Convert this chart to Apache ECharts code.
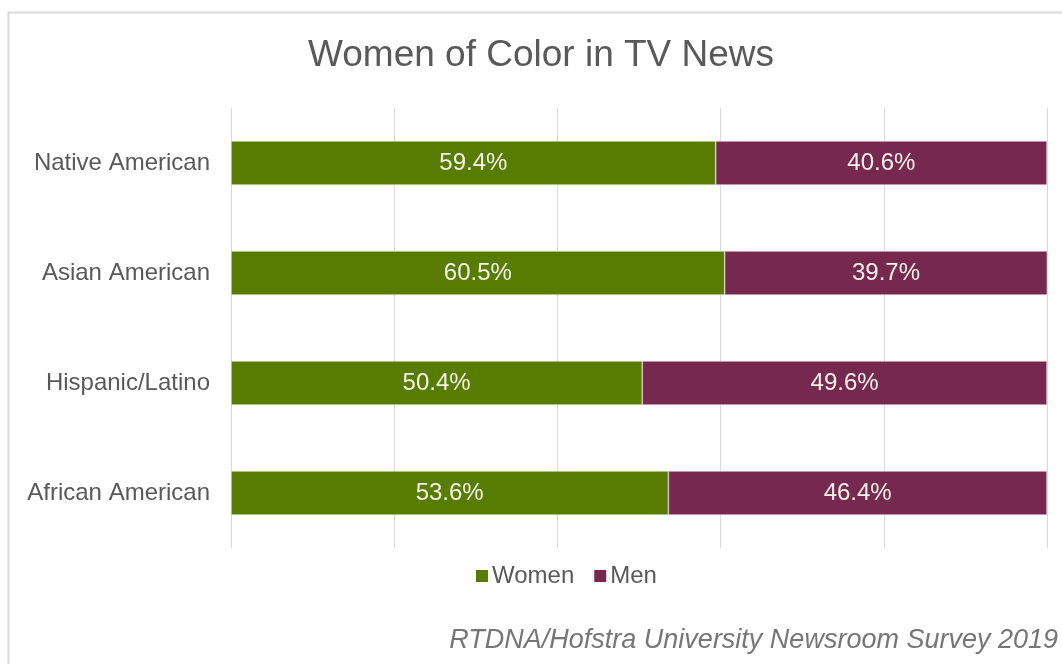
<!DOCTYPE html>
<html>
<head>
<meta charset="utf-8">
<script src="https://cdn.jsdelivr.net/npm/echarts@6/dist/echarts.min.js"></script>
<style>
  html, body { margin: 0; padding: 0; background: #ffffff; }
  #chart { width: 1062px; height: 664px; }
</style>
</head>
<body>
<div id="chart"></div>
<script>
// Share of women and men among newsroom staff of color, by group (percent)
const categories = ['African American', 'Hispanic/Latino', 'Asian American', 'Native American'];
const women = [53.6, 50.4, 60.5, 59.4];
const men = [46.4, 49.6, 39.7, 40.6];
const xTicks = [0, 20, 40, 60, 80, 100];

const FONT = '"Liberation Sans", Arial, sans-serif';
const chart = echarts.init(document.getElementById('chart'));

const labelStyle = {
  show: true,
  position: 'inside',
  color: '#f2f2ea',
  fontSize: 24,
  fontFamily: FONT,
  formatter: p => p.value.toFixed(1) + '%'
};

chart.setOption({
  backgroundColor: '#ffffff',
  animation: false,
  title: {
    text: 'Women of Color in TV News',
    left: 303,
    top: 32,
    textStyle: { color: '#595959', fontSize: 37, fontWeight: 'normal', fontFamily: FONT }
  },
  graphic: [
    {
      type: 'rect',
      shape: { x: 8.5, y: 12.5, width: 1070, height: 670 },
      style: { fill: 'none', stroke: '#d9d9d9', lineWidth: 2 },
      silent: true
    },
    {
      type: 'text',
      right: 4,
      top: 627,
      style: {
        text: 'RTDNA/Hofstra University Newsroom Survey 2019',
        fill: '#767676',
        font: 'italic 27px ' + FONT
      }
    }
  ],
  legend: {
    data: ['Women', 'Men'],
    left: 471,
    top: 559,
    itemWidth: 12,
    itemHeight: 12,
    itemGap: 20,
    icon: 'rect',
    itemStyle: { borderWidth: 0 },
    textStyle: { color: '#595959', fontSize: 24, fontFamily: FONT, padding: [0, 0, 0, -1] }
  },
  grid: { left: 231, right: 15, top: 108, bottom: 116, containLabel: false },
  xAxis: {
    type: 'value',
    min: xTicks[0],
    max: xTicks[xTicks.length - 1],
    interval: xTicks[1] - xTicks[0],
    axisLabel: { show: false },
    axisLine: { show: false },
    axisTick: { show: false },
    splitLine: { show: true, lineStyle: { color: '#d9d9d9', width: 1 } }
  },
  yAxis: {
    type: 'category',
    data: categories,
    axisLine: { show: false },
    axisTick: { show: false },
    axisLabel: { color: '#595959', fontSize: 24, fontFamily: FONT, margin: 21 }
  },
  series: [
    {
      name: 'Women',
      type: 'bar',
      stack: 'total',
      barWidth: 44,
      data: women,
      clip: true,
      itemStyle: { color: '#587c00', borderColor: '#dfe8cc', borderWidth: 0.6 },
      label: labelStyle
    },
    {
      name: 'Men',
      type: 'bar',
      stack: 'total',
      barWidth: 44,
      data: men,
      clip: true,
      itemStyle: { color: '#77284f', borderColor: '#ead4de', borderWidth: 0.6 },
      label: labelStyle
    }
  ]
});
</script>
</body>
</html>
